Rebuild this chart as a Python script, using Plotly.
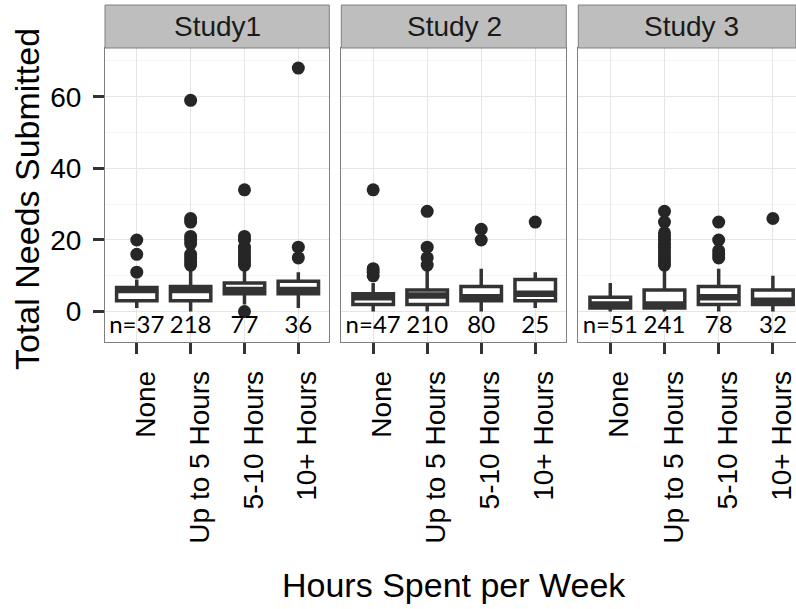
import plotly.graph_objects as go

# ---------------- data ----------------
categories = ["None", "Up to 5 Hours", "5-10 Hours", "10+ Hours"]
studies = ["Study1", "Study 2", "Study 3"]

q1_s1 = [3, 3, 5, 5]
med_s1 = [6, 6, 6, 6]
q3_s1 = [6.75, 7, 8, 8.5]
lo_s1 = [1, 0, 2, 1]
hi_s1 = [9, 12, 12, 11]
out_s1 = [[11, 16, 20],
          [13, 14, 15, 16, 19, 20, 21, 25, 26, 59],
          [0, 13, 14, 15, 16, 17, 18, 20, 21, 34],
          [15, 18, 68]]
n_s1 = [37, 218, 77, 36]

q1_s2 = [2, 2, 3, 3]
med_s2 = [4, 4.5, 4, 5]
q3_s2 = [5, 6, 7, 9]
lo_s2 = [0, 0, 0, 1]
hi_s2 = [8, 12, 12, 11]
out_s2 = [[10, 11, 12, 34],
          [13, 15, 18, 28],
          [20, 23],
          [25]]
n_s2 = [47, 210, 80, 25]

q1_s3 = [1, 1, 2, 2]
med_s3 = [2, 2, 4, 3]
q3_s3 = [4, 6, 7, 6]
lo_s3 = [0, 0, 0, 0]
hi_s3 = [8, 12, 12, 10]
out_s3 = [[],
          [13, 14, 15, 16, 17, 18, 19, 20, 21, 22, 25, 28],
          [15, 16, 17, 20, 25],
          [26]]
n_s3 = [51, 241, 78, 32]

y_ticks = [0, 20, 40, 60]
n_label_y = -4.4

# ---------------- styling ----------------
W, H = 796, 609
FONT = "Liberation Sans, Arial, sans-serif"
LINE = "#333333"
PT = "#262626"
BOXW = 0.75

panels = [
    (q1_s1, med_s1, q3_s1, lo_s1, hi_s1, out_s1, n_s1),
    (q1_s2, med_s2, q3_s2, lo_s2, hi_s2, out_s2, n_s2),
    (q1_s3, med_s3, q3_s3, lo_s3, hi_s3, out_s3, n_s3),
]

# pixel geometry of panels
px_dom = [(105, 329.3), (341.3, 566.3), (578.3, 796)]
x_ranges = [[0.41, 4.575], [0.41, 4.575], [0.41, 4.575 - 8.0 / 53.9]]
y_top_px, y_bot_px = 48, 341.7
y_dom = [1 - y_bot_px / H, 1 - y_top_px / H]
y_range = [-8.4, 73.6]

positions = [i + 1 for i in range(len(categories))]

fig = go.Figure()

for k, (q1, med, q3, lo, hi, outs, ns) in enumerate(panels):
    xa = "x" if k == 0 else f"x{k+1}"
    ya = "y" if k == 0 else f"y{k+1}"
    fig.add_trace(go.Box(
        x=positions, q1=q1, median=med, q3=q3,
        lowerfence=lo, upperfence=hi,
        width=BOXW, fillcolor="white",
        line=dict(color=LINE, width=3.5),
        whiskerwidth=0, boxpoints=False,
        showlegend=False, hoverinfo="skip",
        xaxis=xa, yaxis=ya,
    ))
    # thick median (ggplot fatten)
    mx, my = [], []
    for p, m in zip(positions, med):
        mx += [p - BOXW / 2 + 0.02, p + BOXW / 2 - 0.02, None]
        my += [m, m, None]
    fig.add_trace(go.Scatter(
        x=mx, y=my, mode="lines", line=dict(color=LINE, width=6.5),
        showlegend=False, hoverinfo="skip", xaxis=xa, yaxis=ya,
    ))
    # outliers
    ox, oy = [], []
    for p, vals in zip(positions, outs):
        ox += [p] * len(vals)
        oy += vals
    fig.add_trace(go.Scatter(
        x=ox, y=oy, mode="markers",
        marker=dict(color=PT, size=13, line=dict(width=0)),
        showlegend=False, hoverinfo="skip", xaxis=xa, yaxis=ya,
    ))
    # n labels
    labels = [("n=" if i == 0 else "") + str(v) for i, v in enumerate(ns)]
    fig.add_trace(go.Scatter(
        x=positions, y=[n_label_y] * len(ns), mode="text", text=labels,
        textposition="middle center",
        textfont=dict(family="Lato, Carlito, sans-serif", size=24, color="black"),
        showlegend=False, hoverinfo="skip", xaxis=xa, yaxis=ya,
    ))

axis_common = dict(
    showline=True, mirror=True, linecolor="#7F7F7F", linewidth=1,
    showgrid=True, gridcolor="#E5E5E5", gridwidth=1,
    zeroline=False,
    ticks="outside", ticklen=11, tickwidth=3, tickcolor=LINE,
    tickfont=dict(family=FONT, size=28, color="black"),
)

layout = dict(
    width=W, height=H,
    margin=dict(l=0, r=0, t=0, b=0),
    paper_bgcolor="white", plot_bgcolor="white",
    showlegend=False,
    shapes=[], annotations=[],
)

for k in range(3):
    xname = "xaxis" if k == 0 else f"xaxis{k+1}"
    yname = "yaxis" if k == 0 else f"yaxis{k+1}"
    yid = "y" if k == 0 else f"y{k+1}"
    xid = "x" if k == 0 else f"x{k+1}"
    layout[xname] = dict(
        axis_common,
        domain=[px_dom[k][0] / W, px_dom[k][1] / W],
        range=x_ranges[k], anchor=yid,
        tickmode="array", tickvals=positions, ticktext=categories,
        tickangle=-90, ticklabelstandoff=6, ticklabelshift=9,
        ticklabeloverflow="allow",
    )
    yax = dict(
        axis_common,
        domain=y_dom, range=y_range, anchor=xid,
        tickmode="array", tickvals=y_ticks,
        minor=dict(tickvals=[10, 30, 50, 70], showgrid=True,
                   gridcolor="#F5F5F5", gridwidth=1, ticks=""),
        ticklabelstandoff=6,
    )
    if k > 0:
        yax["matches"] = "y"
        yax["showticklabels"] = False
        yax["ticks"] = ""
    layout[yname] = yax
    # strip
    layout["shapes"].append(dict(
        type="rect", xref=f"{xid} domain", yref="paper",
        x0=0, x1=1, y0=1 - y_top_px / H, y1=1 - 5 / H,
        fillcolor="#BEBEBE", line=dict(color="#7F7F7F", width=1), layer="above",
    ))
    layout["annotations"].append(dict(
        text=studies[k], xref=xid, x=2.5, yref="paper", y=1 - 26.5 / H,
        showarrow=False, xanchor="center", yanchor="middle",
        font=dict(family=FONT, size=28, color="#1A1A1A"),
    ))

layout["annotations"].append(dict(
    text="Hours Spent per Week", xref="paper", yref="paper",
    x=454 / W, y=1 - 585 / H, showarrow=False,
    xanchor="center", yanchor="middle",
    font=dict(family=FONT, size=34, color="black"),
))
layout["annotations"].append(dict(
    text="Total Needs Submitted", xref="paper", yref="paper",
    x=27 / W, y=1 - 199 / H, showarrow=False, textangle=-90,
    xanchor="center", yanchor="middle",
    font=dict(family=FONT, size=34, color="black"),
))

fig.update_layout(**layout)
fig.write_html("out.html")
